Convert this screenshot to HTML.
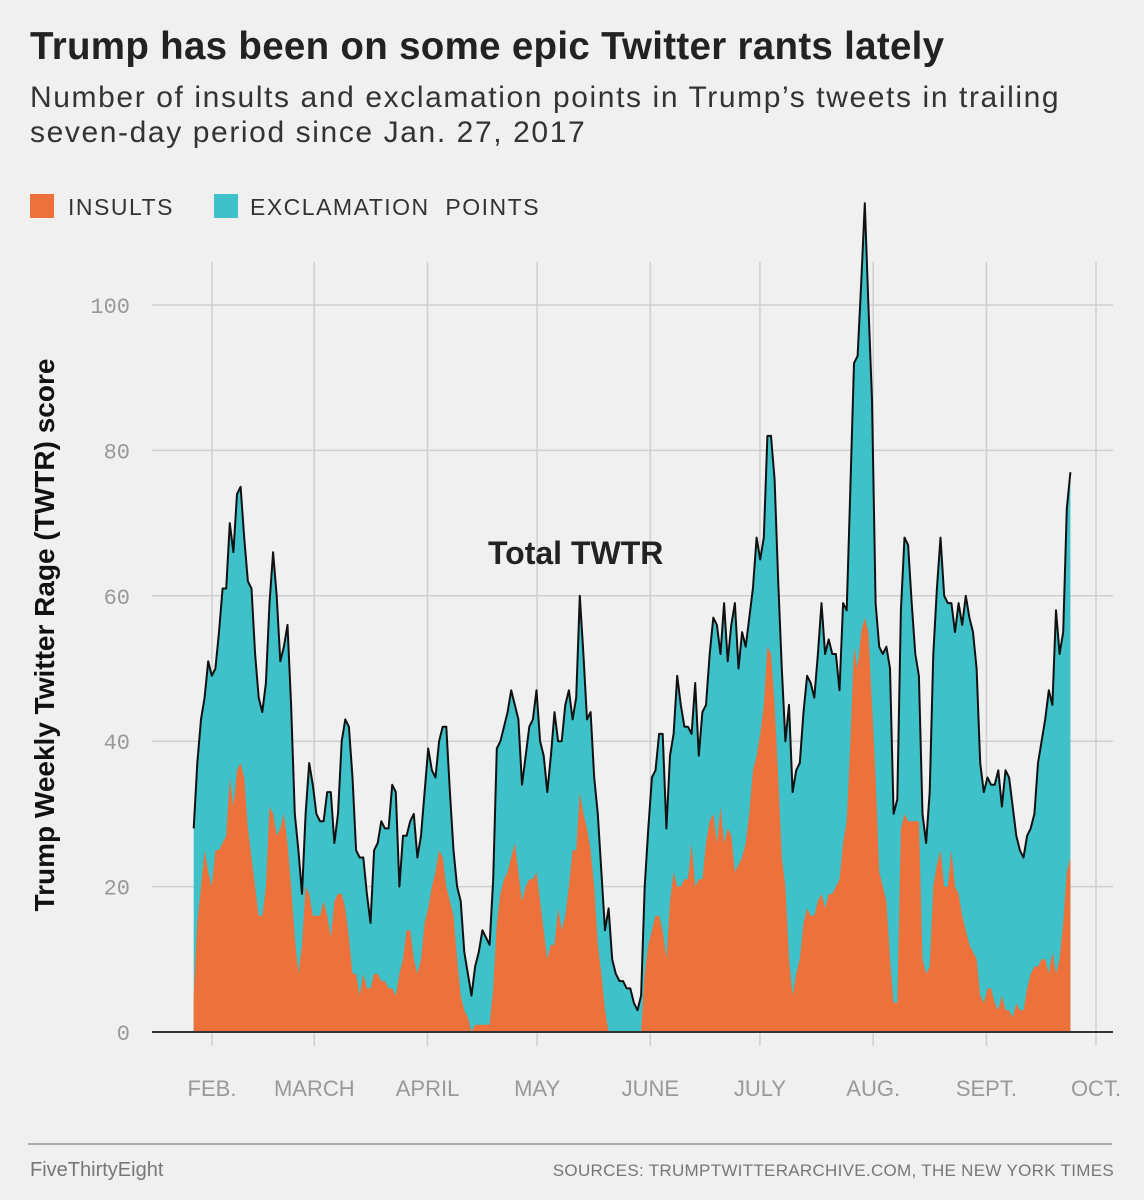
<!DOCTYPE html>
<html><head><meta charset="utf-8"><style>
body{margin:0;background:#f0f0f0;font-family:"Liberation Sans",sans-serif;}
#wrap{position:relative;width:1144px;height:1200px;overflow:hidden;background:#f0f0f0;}
.t{position:absolute;white-space:nowrap;}
</style></head><body>
<div id="wrap">
<div class="t" style="left:30px;top:25px;font-size:38.5px;font-weight:bold;color:#222;letter-spacing:0.3px;">Trump has been on some epic Twitter rants lately</div>
<div class="t" style="left:30px;top:80px;font-size:30px;line-height:35px;color:#333;letter-spacing:1.6px;">Number of insults and exclamation points in Trump’s tweets in trailing<br>seven-day period since Jan. 27, 2017</div>
<div class="t" style="left:30px;top:194px;font-size:23px;color:#333;letter-spacing:1.5px;"><span style="display:inline-block;width:24px;height:24px;background:#ec713a;vertical-align:-3px;margin-right:14px;"></span>INSULTS</div>
<div class="t" style="left:214px;top:194px;font-size:23px;color:#333;letter-spacing:1.5px;"><span style="display:inline-block;width:24px;height:24px;background:#3ec1c9;vertical-align:-3px;margin-right:12px;"></span>EXCLAMATION&nbsp; POINTS</div>
<svg id="chart" width="1144" height="1200" style="position:absolute;left:0;top:0;"></svg>
<div class="t" style="left:28px;top:1143px;width:1084px;height:2px;background:#aaa;"></div>
<div class="t" style="left:30px;top:1159px;font-size:20px;color:#777;">FiveThirtyEight</div>
<div class="t" style="right:30px;top:1161px;font-size:17px;color:#777;letter-spacing:0.3px;">SOURCES: TRUMPTWITTERARCHIVE.COM, THE NEW YORK TIMES</div>
</div>
<script>
const totals=[28,37,43,46,51,49,50,55,61,61,70,66,74,75,68,62,61,52,46,44,48,59,66,60,51,53,56,45,30,25,19,30,37,34,30,29,29,33,33,26,30,40,43,42,35,25,24,24,19,15,25,26,29,28,28,34,33,20,27,27,29,30,24,27,33,39,36,35,40,42,42,33,25,20,18,11,8,5,9,11,14,13,12,21,39,40,42,44,47,45,43,34,38,42,43,47,40,38,33,38,44,40,40,45,47,43,46,60,52,43,44,35,30,22,14,17,10,8,7,7,6,6,4,3,5,20,28,35,36,41,41,28,38,41,49,45,42,42,41,48,38,44,45,52,57,56,52,59,51,56,59,50,55,53,57,61,68,65,68,82,82,76,62,50,40,45,33,36,37,44,49,48,46,52,59,52,54,52,52,47,59,58,75,92,93,103,114,100,87,59,53,52,53,50,30,32,58,68,67,59,52,49,30,26,33,52,61,68,60,59,59,55,59,56,60,57,55,50,37,33,35,34,34,36,31,36,35,31,27,25,24,27,28,30,37,40,43,47,45,58,52,55,72,77];
const insults=[5,15,20,25,22,20,25,25,26,27,35,31,36,37,35,28,24,20,16,16,20,31,30,27,28,30,26,20,13,8,12,20,19,16,16,16,18,16,13,18,19,19,17,13,8,8,5,8,6,6,8,8,7,7,6,6,5,8,10,14,14,10,8,10,15,17,20,22,25,24,20,18,16,10,5,3,2,0,1,1,1,1,1,6,15,19,21,22,24,26,22,18,20,21,21,22,18,14,10,12,12,17,14,16,20,25,25,33,30,28,25,20,12,8,3,0,0,0,0,0,0,0,0,0,0,8,12,14,16,16,14,10,18,22,20,20,21,21,26,20,21,21,26,29,30,26,31,26,28,27,22,23,24,26,30,36,38,41,45,53,52,45,35,24,20,10,5,8,10,15,17,16,16,18,19,17,19,19,20,21,26,29,40,53,50,55,57,55,45,35,22,20,18,10,4,4,28,30,29,29,29,29,10,8,9,20,23,25,20,20,25,20,19,16,14,12,11,10,5,4,6,6,4,3,5,3,3,2,4,3,3,6,8,9,9,10,10,8,11,8,10,15,22,24];
const monthDays=[31,59,90,120,151,181,212,243,273];
const monthLabels=["FEB.","MARCH","APRIL","MAY","JUNE","JULY","AUG.","SEPT.","OCT."];
const yTicks=[0,20,40,60,80,100];
const startDay=26, endDay=266;

const NS="http://www.w3.org/2000/svg";
const svg=document.getElementById('chart');
const xDay=d=>212+(d-31)*(1096-212)/(273-31);
const yVal=v=>1032-v*(1032-305)/100;
function mk(tag,attrs){const e=document.createElementNS(NS,tag);for(const k in attrs)e.setAttribute(k,attrs[k]);svg.appendChild(e);return e;}

yTicks.forEach(v=>{
  const l=mk('line',{x1:152,x2:1113,y1:yVal(v),y2:yVal(v),stroke:'#cfcfcf','stroke-width':1.5});
  
  
  const t=mk('text',{x:130,y:yVal(v)+8,'text-anchor':'end','font-size':22,fill:'#999','font-family':'Liberation Mono, monospace'});
  t.textContent=v;
  
  
});
monthDays.forEach((d,i)=>{
  const l=mk('line',{x1:xDay(d),x2:xDay(d),y1:262,y2:1046,stroke:'#cfcfcf','stroke-width':1.5});
  
  
  const t=mk('text',{x:xDay(d),y:1096,'text-anchor':'middle','font-size':22,fill:'#999','font-family':'Liberation Sans Narrow, Liberation Sans, sans-serif'});
  t.textContent=monthLabels[i];
  
  
});

const n=Math.min(totals.length,insults.length);
const xi=i=>xDay(startDay+i*(endDay-startDay)/(n-1));
let topPath='',insPath='';
for(let i=0;i<n;i++){topPath+=(i?'L':'M')+xi(i).toFixed(1)+','+yVal(totals[i]).toFixed(1);insPath+='L'+xi(i).toFixed(1)+','+yVal(Math.min(insults[i],totals[i])).toFixed(1);}
const base0=xi(0).toFixed(1), base1=xi(n-1).toFixed(1);
const a1=mk('path',{d:topPath+'L'+base1+','+yVal(0)+'L'+base0+','+yVal(0)+'Z',fill:'#3ec1c9'});


const a2=mk('path',{d:'M'+base0+','+yVal(0)+insPath+'L'+base1+','+yVal(0)+'Z',fill:'#ec713a'});


const ln=mk('path',{d:topPath,fill:'none',stroke:'#111','stroke-width':2,'stroke-linejoin':'round'});


const bl=mk('line',{x1:152,x2:1113,y1:yVal(0),y2:yVal(0),stroke:'#333','stroke-width':2});


const lab=mk('text',{x:488,y:564,'font-size':32,'font-weight':'bold',fill:'#222'});
lab.textContent='Total TWTR';


const yt=mk('text',{x:0,y:0,'font-size':28,'font-weight':'bold',fill:'#111','text-anchor':'middle',transform:'translate(54,635) rotate(-90)'});
yt.textContent='Trump Weekly Twitter Rage (TWTR) score';


</script>
</body></html>
